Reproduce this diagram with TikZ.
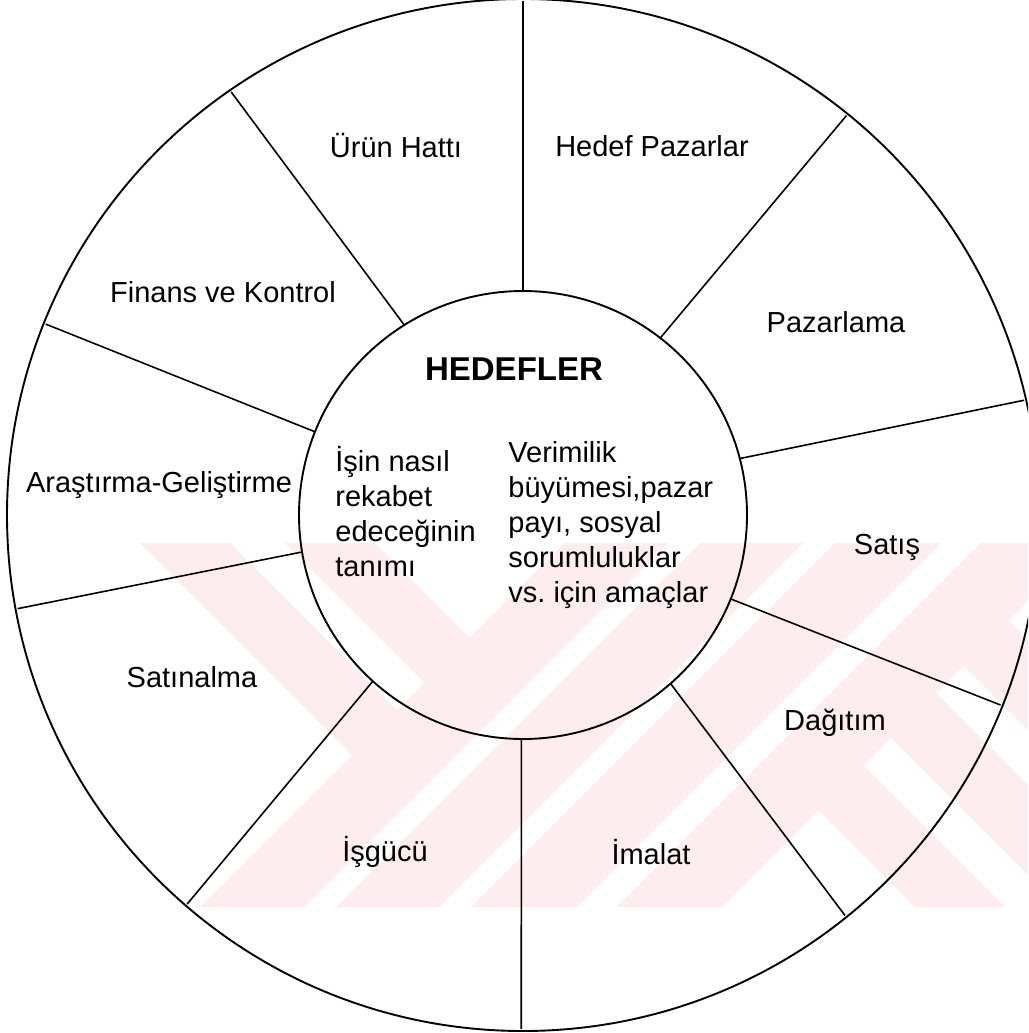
\documentclass[tikz,border=0pt]{standalone}
\usepackage{fontspec}
\setmainfont{Liberation Sans}
\usetikzlibrary{calc}
\begin{document}
\begin{tikzpicture}[x=0.5pt,y=-0.5pt,
  ring/.style={line width=0.95pt,black},
  spoke/.style={line width=0.8pt,black},
  lbl/.style={font=\fontsize{14.5pt}{17.5pt}\selectfont,inner sep=0pt},
  body/.style={font=\fontsize{14.5pt}{17.5pt}\selectfont,inner sep=0pt,align=left,anchor=north west},
  ttl/.style={font=\bfseries\fontsize{16.5pt}{19pt}\selectfont,inner sep=0pt},
  wm/.style={fill={rgb,255:red,253;green,236;blue,240},draw=none}]
\useasboundingbox (0,0) rectangle (1028,1033);
\clip (0,0) rectangle (1028,1033);
\fill[white] (0,0) rectangle (1028,1033);

% faint background band of diagonal stripes
% "\" stripe: x-y in [a,a+90];  "/" stripe: x+y in [b,e]
\begin{scope}
  \clip (0,543) rectangle (1028,907);
  \begin{scope}
    \clip (0,0) -- (1211,0) -- (0,1211) -- cycle;
    \foreach \a in {-403,-258}
      \fill[wm] ({\a+543},543) -- ({\a+633},543) -- ({\a+997},907) -- ({\a+907},907) -- cycle;
  \end{scope}
  \foreach \b/\e in {1107/1211, 1243/1346, 1378/1484, 1524/1629}
    \fill[wm] ({\b-543},543) -- ({\e-543},543) -- ({\e-907},907) -- ({\b-907},907) -- cycle;
  \begin{scope}
    \clip (1528,0) -- (2000,0) -- (2000,1100) -- (428,1100) -- cycle;
    \foreach \a in {8,153,298}
      \fill[wm] ({\a+543},543) -- ({\a+633},543) -- ({\a+997},907) -- ({\a+907},907) -- cycle;
  \end{scope}
\end{scope}

\coordinate (C) at (523,515);

% outer and inner rings
\draw[ring] (C) circle[radius=516];
\draw[ring] (C) circle[radius=224];

% spokes between the rings (math angles; the y axis points down)
\foreach \ai/\ao in {90/90, 52.2/51.0, 14.6/12.9, -22.0/-21.7, -48.8/-51.2,
                     -90.4/-90.2, -132.1/-130.8, 189.5/190.5, 158.2/158.2, 122.0/124.6}
  \draw[spoke] ($(C)+({cos(\ai)*224},{-sin(\ai)*224})$) -- ($(C)+({cos(\ao)*514},{-sin(\ao)*514})$);

% sector labels
\node[lbl] (urun)   at (396,146) {Ürün Hattı};
\node[lbl] (hedefp) at (652,146) {Hedef Pazarlar};
\node[lbl] (paz)    at (836,322) {Pazarlama};
\node[lbl] (satis)  at (887,547) {Satış};
\node[lbl] (dag)    at (835,723) {Dağıtım};
\node[lbl] (imalat) at (651,852) {İmalat};
\node[lbl] (isgucu) at (385,852) {İşgücü};
\node[lbl] (satin)  at (192,677) {Satınalma};
\node[lbl] (arge)   at (159,485) {Araştırma-Geliştirme};
\node[lbl] (finans) at (223,292) {Finans ve Kontrol};

% hub texts
\node[ttl] (hedefler) at (514,369) {HEDEFLER};
\node[body] (tanim) at (335,446) {İşin nasıl\\rekabet\\edeceğinin\\tanımı};
\node[body] (amac) at (508,441) {Verimilik\\büyümesi,pazar\\payı, sosyal\\sorumluluklar\\vs.\ için amaçlar};
\end{tikzpicture}
\end{document}
